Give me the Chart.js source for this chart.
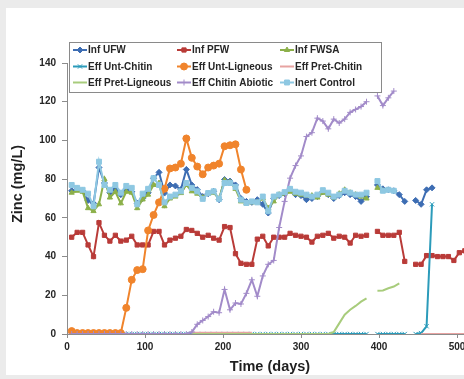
<!DOCTYPE html>
<html>
<head>
<meta charset="utf-8">
<script src="https://cdn.jsdelivr.net/npm/chart.js@4.4.0/dist/chart.umd.min.js"></script>
<style>
  html, body { margin: 0; padding: 0; background: #ebebeb; }
  #frame { position: relative; width: 464px; height: 379px; overflow: hidden; background: #ebebeb; }
  #panel { position: absolute; left: 6px; top: 8px; width: 500px; height: 367px; background: #fff; }
</style>
</head>
<body>
<div id="frame"><div id="panel"><canvas id="chart" width="500" height="367"></canvas></div></div>
<script>
// sampling days (weekly)
const days = [6, 13, 20, 27, 34, 41, 48, 55, 62, 69,
    76, 83, 90, 97, 104, 111, 118, 125, 132, 139,
    146, 153, 160, 167, 174, 181, 188, 195, 202, 209,
    216, 223, 230, 237, 244, 251, 258, 265, 272, 279,
    286, 293, 300, 307, 314, 321, 328, 335, 342, 349,
    356, 363, 370, 377, 384, 391, 398, 405, 412, 419,
    426, 433, 440, 447, 454, 461, 468, 475, 482, 489,
    496, 503, 510];

const infUFW = [74, 75, 74, 69, 67.5, 86, 78, 73, 75, 72,
    75, 73.5, 67.5, 70, 73, 80.5, 83.5, 72.8, 77, 76.5,
    74.6, 85, 77, 74.6, 71, 72.5, 73.7, 69.4, 79.8, 79,
    77, 70, 68.5, 68, 69.4, 67, 62.5, 70, 71.5, 72.5,
    74.5, 72, 71.5, 69.4, 70, 71, 73.5, 72, 70, 71.5,
    73, 72, 71, 68.5, 71, null, 77, 75, 74.5, 74,
    72, 68.5, null, 69, 67, 74.5, 75.5, null, null, null,
    null, null, null];

const infPFW = [50, 52.5, 52.5, 46, 40, 57.5, 51, 48, 51, 48,
    48.5, 50.5, 46, 46, 46, 53, 53, 46, 48.5, 49.5,
    50.5, 54, 53.5, 52, 50, 51, 49.5, 48.5, 55.5, 55,
    41.5, 36.5, 36, 36, 49, 50.5, 45.5, 50, 50, 50,
    52, 51, 50.5, 50, 47.5, 50.5, 51, 52, 49.5, 50.5,
    50, 47, 51, 50.5, 51, null, 53, 51, 51, 51,
    52.5, 37.5, null, 36, 36, 40.5, 40.5, 40, 40, 40,
    38, 42, 43];

const infFWSA = [73, 74, 73.5, 65, 63.5, 67, 80, 70.5, 73.5, 67.5,
    73.5, 73, 65, 69.5, 72, 77, 78, 66, 70, 71,
    72.8, 77, 73.7, 72.5, 70.5, 72.5, 73, 70, 79.5, 78.5,
    75, 68.5, 67.5, 68, 68, 70, 65, 68.5, 72, 72.5,
    73.5, 72.5, 72, 71.5, 71.5, 70.5, 73, 72, 70.5, 72.5,
    74.5, 73, 72, 71, 70, null, 75.5, 74, null, null,
    null, null, null, null, null, null, null, null, null, null,
    null, null, null];

const effUntChitin = [0, 0, 0, 0, 0, 0, 0, 0, 0, 0,
    0, 0, 0, 0, 0, 0, 0, 0, 0, 0,
    0, 0, 0, 0, 0, 0, 0, 0, 0, 0,
    0, 0, 0, 0, 0, 0, 0, 0, 0, 0,
    0, 0, 0, 0, 0, 0, 0, 0, 0, 0,
    0, 0, 0, 0, 0, null, 0, 0, 0, 0,
    0, 0, null, 0, 0.5, 4, 67, null, null, null,
    null, null, null];

const effUntLigneous = [1.5, 0.5, 0.5, 0.5, 0.5, 0.5, 0.5, 0.5, 0.5, 0.5,
    13.5, 28, 33, 33.5, 53.5, 61.5, 68, 75, 85.5, 86,
    88, 101, 91, 86.5, 82.5, 86, 87, 88, 97, 97.5,
    98, 85, 74.5, null, null, null, null, null, null, null,
    null, null, null, null, null, null, null, null, null, null,
    null, null, null, null, null, null, null, null, null, null,
    null, null, null, null, null, null, null, null, null, null,
    null, null, null];

const effPretChitin = [null, null, null, null, null, null, null, null, null, null,
    null, null, null, null, null, null, null, null, null, null,
    null, null, 0.7, 0.7, 0.7, 0.7, 0.7, 0.7, 0.7, 0.7,
    0.7, 0.7, 0.7, 0.7, null, null, null, null, null, null,
    null, null, null, null, null, null, null, null, null, null,
    null, null, null, null, null, null, null, null, null, null,
    null, null, null, null, 0, 0, 0, 0, 0, 0,
    0, 0, 0];

const effPretLigneous = [null, null, null, null, null, null, null, null, null, null,
    null, null, null, null, null, null, null, null, null, null,
    null, null, 0, 0, 0, 0, 0, 0, 0, 0,
    0, 0, 0, 0, 0, 0, 0, 0, 0, 0,
    0, 0, 0, 0, 0, 0, 0, 0, 1, 5.5,
    10, 12.5, 14.5, 16.7, 18.4, null, 22.4, 22.5, 23.6, 24.5,
    26.2, null, null, null, null, null, null, null, null, null,
    null, null, null];

const effChitinAbiotic = [0, 0, 0, 0, 0, 0, 0, 0, 0, 0,
    0, 0, 0, 0, 0, 0, 0, 0, 0, 0,
    0, 0, 1, 5, 7, 9, 11.5, 11, 23, 12.5,
    16, 15.5, 21, 28, 19.5, 30, 36, 38, 55, 68.5,
    80.5, 87, 92, 102, 104, 111.5, 110, 106, 111, 109,
    111, 114.5, 116, 117.5, 120, null, 123, 118, 122, 125.5,
    null, null, null, null, null, null, null, null, null, null,
    null, null, null];

const inertControl = [77, 75.5, 74.5, 72.5, 66, 89, 77, 74.5, 77, 73,
    76.5, 75.5, 67, 72.5, 75, 80.5, 77, 68, 71, 72,
    73.7, 78, 75.5, 73.7, 69.8, 72.8, 73.7, 69.8, 78, 78,
    76, 69.4, 67.7, 68.5, 68, 71, 63.4, 71, 72, 73.3,
    75, 73.5, 73, 72, 71, 72, 74.3, 73, 71, 72,
    74, 73, 72, 72, 73, null, 79, 74, 74.5, 74,
    null, null, null, null, null, null, null, null, null, null,
    null, null, null];

const seriesNames = ['Inf UFW', 'Inf PFW', 'Inf FWSA', 'Eff Unt-Chitin', 'Eff Unt-Ligneous',
    'Eff Pret-Chitin', 'Eff Pret-Ligneous', 'Eff Chitin Abiotic', 'Inert Control'];
const seriesValues = [infUFW, infPFW, infFWSA, effUntChitin, effUntLigneous,
    effPretChitin, effPretLigneous, effChitinAbiotic, inertControl];
const colors = ['#3d6db3', '#b93b38', '#8cb04a', '#2b9bba', '#f0842c',
    '#e7a3a1', '#a8cc7c', '#a28bc9', '#8ec8e2'];
const markers = ['rectRot', 'rect', 'triangle', 'crossRot', 'circle', false, false, 'cross', 'rect'];
const markerSize = [3, 3, 3, 3, 3.5, 0, 0, 3, 3.5];

const xTicks = [0, 100, 200, 300, 400, 500];
const FONT = "'Liberation Sans', Arial, sans-serif";

function toPoints(vals) {
    return days.map((d, i) => ({ x: d, y: vals[i] }));
}

const datasets = seriesNames.map((name, i) => ({
    label: name,
    data: toPoints(seriesValues[i]),
    borderColor: colors[i],
    backgroundColor: colors[i],
    pointBackgroundColor: colors[i],
    pointBorderColor: colors[i],
    pointStyle: markers[i] || 'circle',
    pointRadius: markerSize[i],
    pointBorderWidth: 1,
    borderWidth: 2,
    spanGaps: false,
    tension: 0,
    order: 8 - i
}));

// legend box drawn inside the plot, 3 columns like the original
const boxLegend = {
    id: 'boxLegend',
    afterDraw(chart) {
        const ctx = chart.ctx;
        ctx.save();
        ctx.fillStyle = '#fff';
        ctx.fillRect(63.5, 34.5, 312, 50);
        ctx.strokeStyle = '#8a8a8a';
        ctx.lineWidth = 1;
        ctx.strokeRect(63.5, 34.5, 312, 50);
        const colX = [67, 171, 274];
        const rowY = [42, 58.5, 74.5];
        ctx.font = 'bold 10px ' + FONT;
        ctx.textBaseline = 'middle';
        ctx.textAlign = 'left';
        seriesNames.forEach((name, i) => {
            const x = colX[i % 3], y = rowY[Math.floor(i / 3)];
            ctx.strokeStyle = colors[i];
            ctx.fillStyle = colors[i];
            ctx.lineWidth = 2;
            ctx.beginPath();
            ctx.moveTo(x, y);
            ctx.lineTo(x + 14, y);
            ctx.stroke();
            if (markers[i]) {
                ctx.lineWidth = 1;
                Chart.helpers.drawPoint(ctx, { pointStyle: markers[i], radius: markerSize[i], borderWidth: 1, rotation: 0 }, x + 7, y);
            }
            ctx.fillStyle = '#262626';
            ctx.fillText(name, x + 15, y + 0.5);
        });
        ctx.restore();
    }
};

// axis titles
const axisTitles = {
    id: 'axisTitles',
    afterDraw(chart) {
        const ctx = chart.ctx;
        ctx.save();
        ctx.fillStyle = '#1f1f1f';
        ctx.font = 'bold 14.5px ' + FONT;
        ctx.textAlign = 'center';
        ctx.textBaseline = 'middle';
        ctx.fillText('Time (days)', 264, 359);
        ctx.translate(12, 176);
        ctx.rotate(-Math.PI / 2);
        ctx.fillText('Zinc (mg/L)', 0, 0);
        ctx.restore();
    }
};

new Chart(document.getElementById('chart'), {
    type: 'line',
    data: { datasets: datasets },
    options: {
        responsive: false,
        animation: false,
        devicePixelRatio: 1,
        layout: { padding: { left: 0, right: 33.4, top: 55, bottom: 0 } },
        plugins: { legend: { display: false }, tooltip: { enabled: false } },
        scales: {
            x: {
                type: 'linear',
                min: 0,
                max: 520,
                afterBuildTicks: (scale) => { scale.ticks = xTicks.map(v => ({ value: v })); },
                afterFit: (scale) => { scale.height = 41; },
                grid: { display: true, drawOnChartArea: false, drawTicks: true, tickLength: 4, color: '#8c8c8c' },
                border: { display: true, color: '#8c8c8c', width: 1 },
                ticks: { padding: 3, color: '#262626', font: { family: FONT, size: 10, weight: 'bold' }, maxRotation: 0 }
            },
            y: {
                min: 0,
                max: 140,
                ticks: { stepSize: 20, padding: 6, color: '#262626', font: { family: FONT, size: 10, weight: 'bold' } },
                afterFit: (scale) => { scale.width = 61; },
                grid: { display: true, drawOnChartArea: false, drawTicks: true, tickLength: 5, color: '#8c8c8c' },
                border: { display: true, color: '#8c8c8c', width: 1 }
            }
        }
    },
    plugins: [boxLegend, axisTitles]
});
</script>
</body>
</html>
